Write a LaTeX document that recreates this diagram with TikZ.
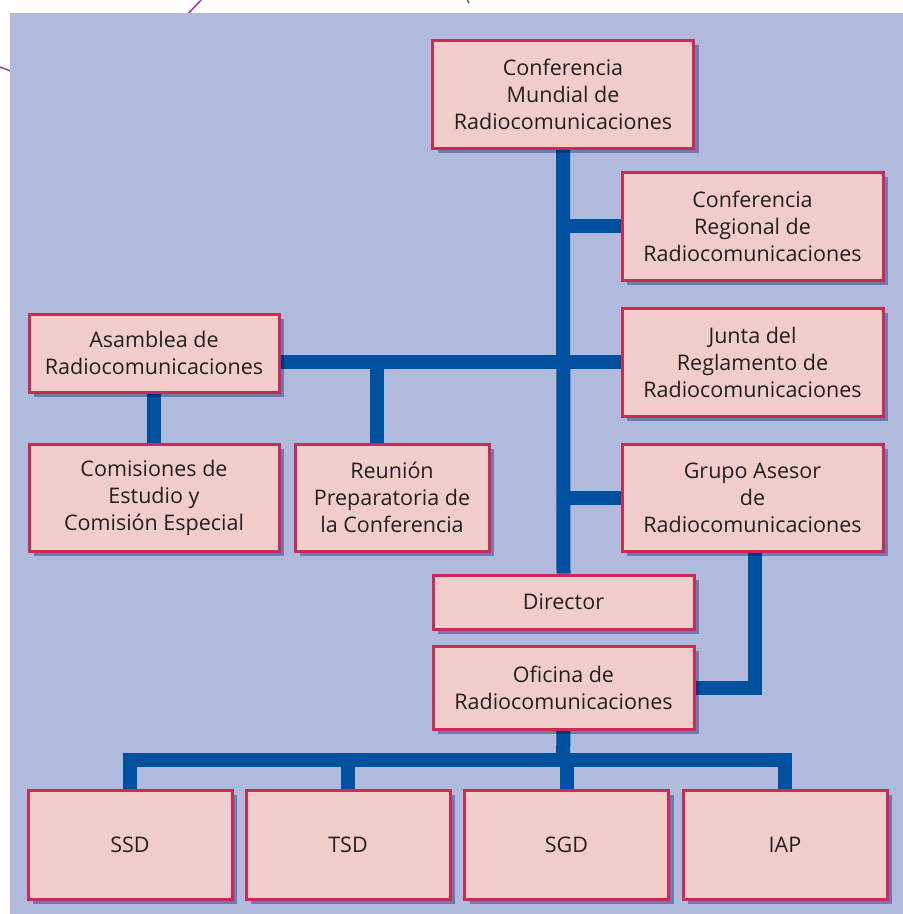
\documentclass[tikz,border=0pt]{standalone}
\usepackage{fontspec}
\setmainfont{Open Sans}
\usetikzlibrary{shadows,backgrounds}
\definecolor{panel}{HTML}{AFBADC}
\definecolor{boxfill}{HTML}{F0CDCB}
\definecolor{boxline}{HTML}{C92B55}
\definecolor{wireblue}{HTML}{0050A0}
\definecolor{ink}{HTML}{231F20}
\definecolor{arcpurple}{HTML}{8E3F98}
\tikzset{
  unit/.style={rectangle, draw=boxline, line width=3pt, fill=boxfill, text=ink,
    align=center, inner sep=0pt, font=\fontsize{21.5}{27}\selectfont,
    drop shadow={shadow xshift=5pt, shadow yshift=-5pt, opacity=0.35, fill=black!60!blue}},
  tall/.style={minimum width=261pt, minimum height=108pt},
  leaf/.style={minimum width=204pt, minimum height=109pt},
  wire/.style={draw=wireblue, line width=14pt},
}
\begin{document}
\begin{tikzpicture}[x=1pt,y=-1pt]
\useasboundingbox (0,0) rectangle (903,914);
%%% top row and the right hand column
\node[unit, tall] (cmr) at (563,94) {Conferencia\\Mundial de\\Radiocomunicaciones};
\node[unit, tall] (crr) at (752.5,226) {Conferencia\\Regional de\\Radiocomunicaciones};
\node[unit, tall] (junta) at (752.5,362) {Junta del\\Reglamento de\\Radiocomunicaciones};
\node[unit, tall, minimum height=107pt] (grupo) at (752.5,497.5) {Grupo Asesor\\de\\Radiocomunicaciones};
%%% left hand side
\node[unit, minimum width=250pt, minimum height=78pt] (asamblea) at (154,353) {Asamblea de\\Radiocomunicaciones};
\node[unit, minimum width=250pt, minimum height=107pt] (comisiones) at (154,497.5) {Comisiones de\\Estudio y\\Comisión Especial};
\node[unit, minimum width=194pt, minimum height=107pt] (reunion) at (392,497.5) {Reunión\\Preparatoria de\\la Conferencia};
%%% director and bureau
\node[unit, minimum width=261pt, minimum height=54pt] (director) at (563.5,602) {Director};
\node[unit, minimum width=261pt, minimum height=83pt] (oficina) at (563.5,687.5) {Oficina de\\Radiocomunicaciones};
%%% the four departments
\node[unit, leaf] (ssd) at (130,844.5) {SSD};
\node[unit, leaf] (tsd) at (348,844.5) {TSD};
\node[unit, leaf] (sgd) at (566.5,844.5) {SGD};
\node[unit, leaf] (iap) at (785,844.5) {IAP};
\coordinate (bus) at (563,760);
%
\begin{scope}[on background layer]
\draw[arcpurple, line width=1.5pt] (0,67) -- (12,71.5);
\draw[arcpurple, line width=1.5pt] (187,15) -- (202,-1);
\draw[arcpurple, line width=1.5pt] (467,-1) -- (469,3);
\fill[panel] (10,13) rectangle (903,914);
%
\draw[wire] (cmr.south) -- (director.north);
\draw[wire] (cmr.south |- crr.west) -- (crr.west);
\draw[wire] (asamblea.east |- junta.west) -- (junta.west);
\draw[wire] ([xshift=-15pt]reunion.north) -- ([xshift=-15pt]reunion.north |- junta.west);
\draw[wire] (asamblea.south) -- (comisiones.north);
\draw[wire] (cmr.south |- grupo.west) -- (grupo.west);
\draw[wire] ([xshift=2pt]grupo.south) |- (oficina.east);
\draw[wire] (oficina.south) -- (bus);
\draw[wire] (ssd.north) |- (bus) -| (iap.north);
\draw[wire] (tsd.north) -- (tsd.north |- bus);
\draw[wire] (sgd.north) -- (sgd.north |- bus);
\end{scope}
\end{tikzpicture}
\end{document}
